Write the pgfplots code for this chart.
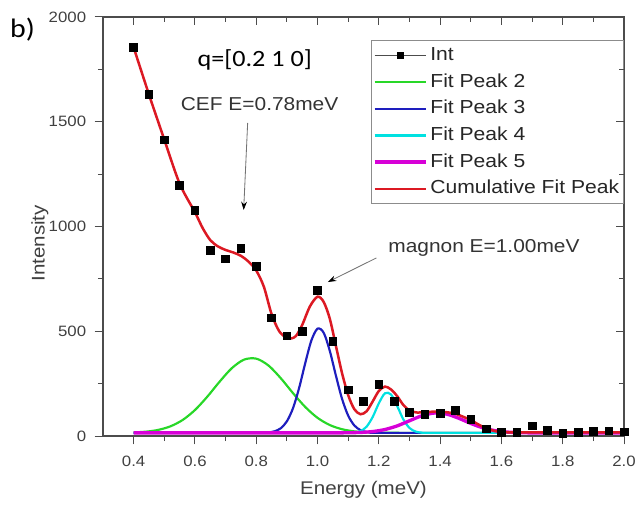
\documentclass[border=0pt]{standalone}
\usepackage{fontspec}
\setmainfont{Liberation Sans}[FakeStretch=1.12]
\newfontfamily\calfont{Carlito}[FakeStretch=1.12]
\usepackage{pgfplots}
\pgfplotsset{compat=1.18}
\usetikzlibrary{arrows.meta}

\definecolor{pktwo}{RGB}{40,215,40}
\definecolor{pkthree}{RGB}{30,30,190}
\definecolor{pkfour}{RGB}{0,225,225}
\definecolor{pkfive}{RGB}{215,0,215}
\definecolor{cumred}{RGB}{220,25,35}

\begin{document}
\begin{tikzpicture}
% page = 637x504 px at 0.6pt per px, axis box lower-left at (0,0)
\useasboundingbox (-61.8pt,-40.8pt) rectangle (320.4pt,261.6pt);

\begin{axis}[
    scale only axis,
    width=312.6pt, height=251.4pt,
    xmin=0.3, xmax=2.0,
    ymin=0, ymax=2000,
    xtick={0.4,0.6,...,2.01},
    ytick={0,500,...,2000},
    minor x tick num=1,
    minor y tick num=1,
    xtick pos=left, ytick pos=left,
    tick align=outside,
    major tick length=5pt, minor tick length=3pt,
    tick style={black!70, line width=0.6pt},
    axis line style={black!70, line width=0.7pt},
    /pgf/number format/1000 sep={},
    /pgf/number format/assume math mode=true,
    ticklabel style={font=\fontsize{9}{10}\selectfont, text=black!75},
    xticklabel style={yshift=-3.5pt, /pgf/number format/fixed, /pgf/number format/fixed zerofill, /pgf/number format/precision=1},
    yticklabel style={xshift=-1.6pt},
    xlabel={Energy (meV)},
    ylabel={Intensity},
    label style={font=\fontsize{11}{12}\selectfont, text=black!75},
    xlabel style={at={(axis description cs:0.5,-0.129)}, anchor=center},
    ylabel style={at={(axis description cs:-0.121,0.46)}, anchor=center},
    clip=false,
    legend cell align=left,
    legend style={at={(0.514,0.945)}, anchor=north west,
        draw=black!45, line width=0.5pt, fill=white,
        inner xsep=1pt, inner ysep=1pt, row sep=0pt,
        font=\fontsize{11.3}{12}\selectfont,
        nodes={inner xsep=1.5pt, inner ysep=2.5pt, text height=8.5pt, text depth=2.5pt, text=black!85}},
    legend image code/.code={\draw[#1] (0pt,0pt) -- (31pt,0pt);},
]

% measured points
\addplot[only marks, mark=square*, mark size=2.3pt, black,
    legend image code/.code={\draw[black!70, line width=0.5pt] (0pt,0pt) -- (31pt,0pt);
        \fill[black] (13.5pt,-2pt) rectangle (17.5pt,2pt);}]
coordinates {
(0.40,1855) (0.45,1632) (0.50,1413) (0.55,1198) (0.60,1077) (0.65,886)
(0.70,845) (0.75,895) (0.80,811) (0.85,564) (0.90,478) (0.95,500)
(1.00,695) (1.05,452) (1.10,220) (1.15,165) (1.20,246) (1.25,165)
(1.30,114) (1.35,105) (1.40,107) (1.45,123) (1.50,78) (1.55,35)
(1.60,17) (1.65,19) (1.70,48) (1.75,28) (1.80,12) (1.85,17)
(1.90,22) (1.95,24) (2.00,20)
};
\addlegendentry{Int}

% Fit Peak 2
\addplot[pktwo, line width=1.3pt, smooth] coordinates {
(0.40,17.1) (0.44,20.7) (0.48,29.1) (0.52,46.2) (0.56,76.6) (0.60,123.9)
(0.64,187.1) (0.68,258.5) (0.72,323.3) (0.76,364.4) (0.80,369.3) (0.84,336.4)
(0.88,276.0) (0.92,204.6) (0.96,138.3) (1.00,86.7) (1.04,52.3) (1.08,32.4)
(1.12,22.2) (1.16,17.7) (1.20,15.9) (1.30,15) (1.60,15) (2.00,15)
};
\addlegendentry{Fit Peak 2}

% Fit Peak 3
\addplot[pkthree, line width=1.3pt, smooth] coordinates {
(0.40,15) (0.60,15) (0.80,15) (0.82,15.3) (0.84,17.1) (0.86,22.5) (0.88,36.9)
(0.90,70.2) (0.92,132.9) (0.94,229.8) (0.96,348.5) (0.98,456.3) (1.00,512.5)
(1.02,493.0) (1.04,406.4) (1.06,288.0) (1.08,177.3) (1.10,97.2) (1.12,50.5)
(1.14,28.1) (1.16,19.1) (1.18,16.1) (1.22,15) (1.60,15) (2.00,15)
};
\addlegendentry{Fit Peak 3}

% Fit Peak 4
\addplot[pkfour, line width=1.3pt, smooth] coordinates {
(0.40,15) (0.80,15) (1.10,15) (1.12,16.7) (1.14,23.2) (1.16,44.4) (1.18,90.8)
(1.20,155.9) (1.22,203.9) (1.24,197.9) (1.26,142.7) (1.28,79.3) (1.30,38.4)
(1.32,21.1) (1.34,16.1) (1.36,15) (1.60,15) (2.00,15)
};
\addlegendentry{Fit Peak 4}

% Fit Peak 5
\addplot[pkfive, line width=2pt, smooth] coordinates {
(0.40,15) (0.80,15) (1.06,15) (1.10,15.6) (1.14,17.0) (1.18,21.3) (1.22,31.0)
(1.26,48.4) (1.30,72.7) (1.34,96.4) (1.38,109.4) (1.42,104.9) (1.46,85.2)
(1.50,60.0) (1.54,38.7) (1.58,25.3) (1.62,18.6) (1.66,16.0) (1.70,15)
(1.85,15) (2.00,15)
};
\addlegendentry{Fit Peak 5}

% Cumulative Fit Peak
\addplot[cumred, line width=1.5pt, smooth] coordinates {
(0.40,1855) (0.45,1630) (0.50,1415) (0.55,1205) (0.60,1068) (0.625,993)
(0.65,935) (0.675,905) (0.70,888) (0.725,876) (0.75,860) (0.775,832)
(0.80,790) (0.825,712) (0.85,582) (0.875,500) (0.90,468) (0.915,466)
(0.93,478) (0.95,530) (0.975,618) (1.00,665) (1.02,640) (1.04,560)
(1.06,430) (1.08,300) (1.10,195) (1.12,128) (1.14,104) (1.16,118)
(1.18,165) (1.20,215) (1.22,236) (1.24,222) (1.26,190) (1.28,148)
(1.30,122) (1.325,112) (1.35,114) (1.375,116) (1.40,116) (1.425,113)
(1.45,106) (1.475,92) (1.50,76) (1.525,55) (1.55,37) (1.575,25)
(1.60,19) (1.65,17) (1.70,17) (1.80,17) (1.90,17) (2.00,17)
};
\addlegendentry{Cumulative Fit Peak}

% points again on top of the curves
\addplot[only marks, mark=square*, mark size=2.3pt, black, forget plot]
coordinates {
(0.40,1855) (0.45,1632) (0.50,1413) (0.55,1198) (0.60,1077) (0.65,886)
(0.70,845) (0.75,895) (0.80,811) (0.85,564) (0.90,478) (0.95,500)
(1.00,695) (1.05,452) (1.10,220) (1.15,165) (1.20,246) (1.25,165)
(1.30,114) (1.35,105) (1.40,107) (1.45,123) (1.50,78) (1.55,35)
(1.60,17) (1.65,19) (1.70,48) (1.75,28) (1.80,12) (1.85,17)
(1.90,22) (1.95,24) (2.00,20)
};

% annotations
\node[font=\calfont\fontsize{14}{16}\selectfont] at (axis cs:0.795,1795) {q=[0.2 1 0]};
\node[font=\fontsize{11.2}{12}\selectfont, text=black!80] at (axis cs:0.811,1585) {CEF E=0.78meV};
\draw[black!55, line width=0.5pt, -{Stealth[length=5pt,width=3.5pt,black]}]
    (axis cs:0.772,1494) -- (axis cs:0.759,1079);
\node[font=\fontsize{11.2}{12}\selectfont, text=black!80] at (axis cs:1.543,897) {magnon E=1.00meV};
\draw[black!55, line width=0.5pt, -{Stealth[length=5pt,width=3.5pt,black]}]
    (axis cs:1.192,850) -- (axis cs:1.034,735);
\node[font=\calfont\fontsize{16}{18}\selectfont] at (axis cs:0.0377,1938) {b)};
\end{axis}

% inward ticks on the top and right sides
\begin{axis}[
    scale only axis,
    width=312.6pt, height=251.4pt,
    xmin=0.3, xmax=2.0,
    ymin=0, ymax=2000,
    xtick={0.4,0.6,...,2.01},
    ytick={0,500,...,2000},
    minor x tick num=1,
    minor y tick num=1,
    xtick pos=right, ytick pos=right,
    tick align=inside,
    major tick length=5pt, minor tick length=3pt,
    tick style={black!70, line width=0.6pt},
    axis line style={draw=none},
    xticklabels={}, yticklabels={},
]
\end{axis}
\end{tikzpicture}
\end{document}
